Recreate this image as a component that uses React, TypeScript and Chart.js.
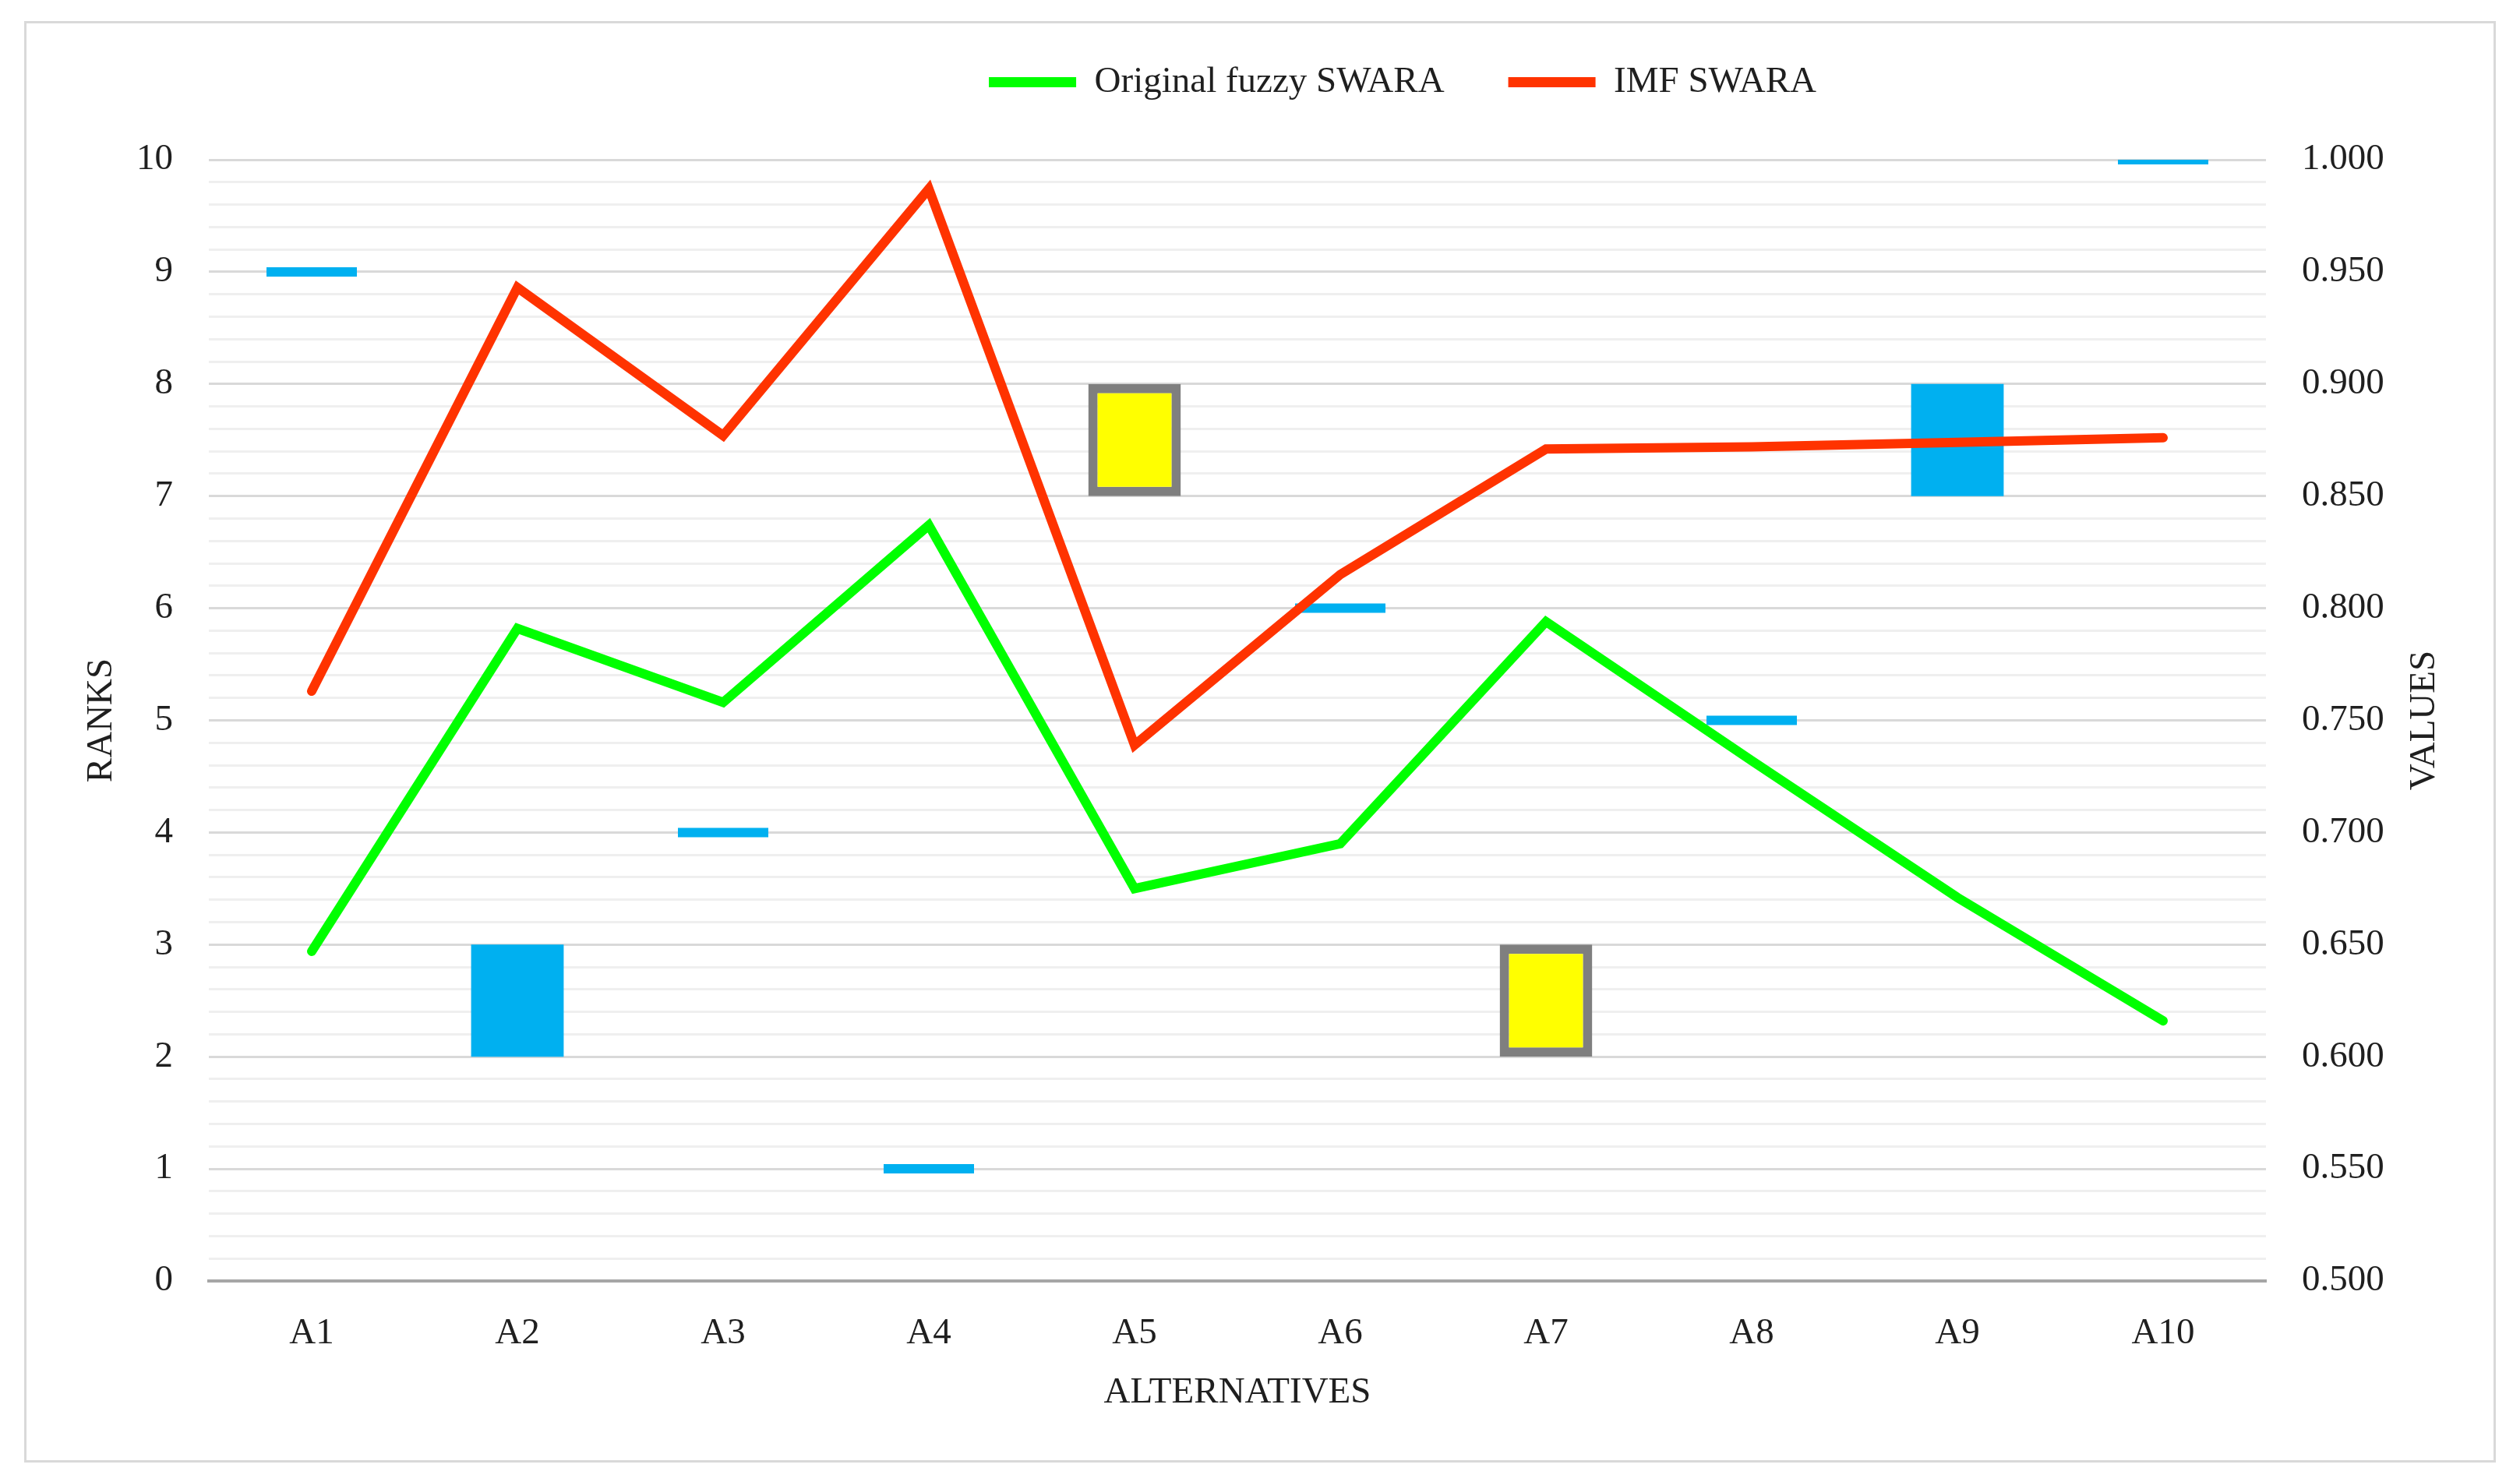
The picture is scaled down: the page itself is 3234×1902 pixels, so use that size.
import { useEffect, useRef } from "react";
import { Chart, registerables } from "chart.js";

Chart.register(...registerables);

// alternatives on the x axis
const alternatives = ["A1", "A2", "A3", "A4", "A5", "A6", "A7", "A8", "A9", "A10"];

// ranks (left axis), drawn as open/close boxes
const originalRanks = [9, 3, 4, 1, 7, 6, 2, 5, 8, 10];
const imfRanks = [9, 2, 4, 1, 8, 6, 3, 5, 7, 10];

// values (right axis)
const originalValues = [0.647, 0.791, 0.758, 0.837, 0.675, 0.695, 0.794, 0.732, 0.671, 0.616];
const imfValues = [0.763, 0.943, 0.877, 0.987, 0.739, 0.815, 0.871, 0.872, 0.874, 0.876];

const FONT = "'Liberation Serif', 'Times New Roman', serif";
const TEXT = "#1F1F1F";
const GREEN = "#00FF00";
const RED = "#FF3300";
const BLUE = "#00B0F0";
const YELLOW = "#FFFF00";
const GREY = "#7F7F7F";

const W = 3234;
const H = 1902;

// legend spacing + centring, and the right-hand title read bottom-to-top like Excel
const chartDecor = {
  id: "chartDecor",
  beforeLayout(chart: any) {
    const legend = chart.legend;
    if (legend && !legend._spaced) {
      const fit = legend.fit;
      legend.fit = function () {
        fit.call(this);
        this.height += 66;
      };
      legend._spaced = true;
    }
  },
  afterLayout(chart: any) {
    const legend = chart.legend;
    if (!legend) return;
    const shift = 1800 - (legend.left + legend.right) / 2;
    legend.left += shift;
    legend.right += shift;
  },
  afterDraw(chart: any) {
    const { ctx, chartArea } = chart;
    ctx.save();
    ctx.translate(3112, (chartArea.top + chartArea.bottom) / 2);
    ctx.rotate(-Math.PI / 2);
    ctx.font = `47px ${FONT}`;
    ctx.fillStyle = TEXT;
    ctx.textAlign = "center";
    ctx.textBaseline = "middle";
    ctx.fillText("VALUES", 0, 0);
    ctx.restore();
  },
};

export default function App() {
  const chartRef = useRef<HTMLCanvasElement>(null);
  const chartInstance = useRef<Chart | null>(null);

  useEffect(() => {
    document.body.style.margin = "0";
    if (!chartRef.current) return;
    if (chartInstance.current) chartInstance.current.destroy();
    const ctx = chartRef.current.getContext("2d");
    if (!ctx) return;

    const isUp = (i: number) => imfRanks[i] > originalRanks[i];

    chartInstance.current = new Chart(ctx, {
      type: "line",
      data: {
        labels: alternatives,
        datasets: [
          {
            label: "Original fuzzy SWARA",
            data: originalValues,
            yAxisID: "y1",
            borderColor: GREEN,
            backgroundColor: GREEN,
            borderWidth: 12,
            borderCapStyle: "round",
            pointRadius: 0,
            pointHoverRadius: 0,
            pointBorderWidth: 13,
            pointBorderColor: GREEN,
            tension: 0,
            order: 0,
          },
          {
            label: "IMF SWARA",
            data: imfValues,
            yAxisID: "y1",
            borderColor: RED,
            backgroundColor: RED,
            borderWidth: 12,
            borderCapStyle: "round",
            pointRadius: 0,
            pointHoverRadius: 0,
            pointBorderWidth: 13,
            pointBorderColor: RED,
            tension: 0,
            order: 1,
          },
          {
            type: "bar",
            label: "Rank change",
            data: alternatives.map((_, i) =>
              originalRanks[i] === imfRanks[i] ? null : [originalRanks[i], imfRanks[i]]
            ) as any,
            yAxisID: "y",
            backgroundColor: (c: any) => (isUp(c.dataIndex) ? YELLOW : BLUE),
            borderColor: GREY,
            borderWidth: (c: any) => (isUp(c.dataIndex) ? 12 : 0),
            borderSkipped: false,
            barPercentage: 0.45,
            categoryPercentage: 1,
            order: 2,
          },
          {
            label: "Same rank",
            data: alternatives.map((_, i) =>
              originalRanks[i] === imfRanks[i] ? originalRanks[i] : null
            ),
            yAxisID: "y",
            showLine: false,
            pointStyle: "line",
            pointRadius: 58,
            pointHoverRadius: 58,
            pointBorderWidth: 12,
            pointBorderColor: BLUE,
            pointBackgroundColor: BLUE,
            borderColor: BLUE,
            order: 3,
          },
        ] as any,
      },
      options: {
        animation: false,
        responsive: true,
        maintainAspectRatio: false,
        devicePixelRatio: 1,
        layout: { padding: 0 },
        plugins: {
          tooltip: { enabled: false },
          legend: {
            position: "top",
            labels: {
              filter: (item: any) => item.datasetIndex < 2,
              usePointStyle: true,
              pointStyle: "line",
              pointStyleWidth: 112,
              padding: 82,
              color: TEXT,
              font: { family: FONT, size: 47 },
            },
          },
        },
        scales: {
          x: {
            type: "category",
            offset: true,
            grid: { display: false, drawTicks: false },
            border: { display: true, color: "#A6A6A6", width: 4 },
            ticks: { color: TEXT, font: { family: FONT, size: 47 }, padding: 39 },
            title: {
              display: true,
              text: "ALTERNATIVES",
              color: TEXT,
              font: { family: FONT, size: 47 },
              padding: { top: 0, bottom: 86 },
            },
            afterFit: (scale: any) => {
              scale.height = H - 1644;
            },
          },
          y: {
            type: "linear",
            position: "left",
            min: 0,
            max: 10,
            grid: {
              drawTicks: false,
              lineWidth: 3,
              color: (c: any) => {
                const v = c.tick ? c.tick.value : 0;
                if (Math.abs(v) < 1e-6) return "#A6A6A6";
                return Math.abs(v - Math.round(v)) < 1e-6 ? "#D9D9D9" : "#EFEFEF";
              },
            },
            border: { display: false },
            ticks: {
              stepSize: 0.2,
              autoSkip: false,
              padding: 46,
              color: TEXT,
              font: { family: FONT, size: 47 },
              callback: (v: any) =>
                Math.abs(v - Math.round(v)) < 1e-6 ? String(Math.round(v)) : "",
            },
            title: {
              display: true,
              text: "RANKS",
              color: TEXT,
              font: { family: FONT, size: 47 },
              padding: { top: 102, bottom: 0 },
            },
            afterFit: (scale: any) => {
              scale.width = 268;
            },
          },
          y1: {
            type: "linear",
            position: "right",
            min: 0.5,
            max: 1.0,
            grid: { display: false, drawTicks: false },
            border: { display: false },
            ticks: {
              stepSize: 0.05,
              padding: 46,
              color: TEXT,
              font: { family: FONT, size: 47 },
              callback: (v: any) => Number(v).toFixed(3),
            },
            afterFit: (scale: any) => {
              scale.width = W - 2908;
            },
          },
        },
      },
      plugins: [chartDecor],
    });

    return () => {
      if (chartInstance.current) {
        chartInstance.current.destroy();
        chartInstance.current = null;
      }
    };
  }, []);

  return (
    <div style={{ position: "relative", width: W, height: H, background: "#fff", overflow: "hidden" }}>
      <div
        style={{
          position: "absolute",
          left: 31,
          top: 27,
          width: 3172 - 6,
          height: 1850 - 6,
          border: "3px solid #D9D9D9",
        }}
      />
      <div style={{ position: "absolute", left: 0, top: 0, width: W, height: H }}>
        <canvas ref={chartRef} />
      </div>
    </div>
  );
}
